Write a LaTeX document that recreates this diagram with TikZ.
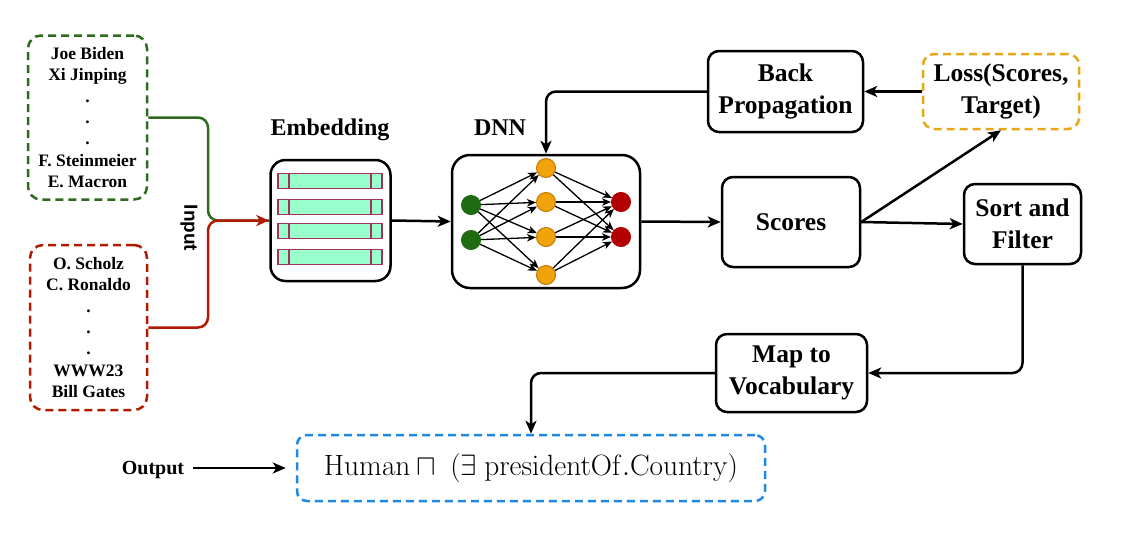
\documentclass[tikz,border=0pt]{standalone}
\usepackage{graphicx}
\usepackage[no-math]{fontspec}
\setmainfont{Liberation Serif}
\newfontfamily\lsans{Liberation Sans}
\usetikzlibrary{arrows.meta}
\definecolor{dgreen}{HTML}{2D6B1F}
\definecolor{dred}{HTML}{B21A00}
\definecolor{lossor}{HTML}{E6A817}
\definecolor{outblue}{HTML}{1E88E5}
\definecolor{mint}{HTML}{99FFCC}
\definecolor{barline}{HTML}{A3325A}
\definecolor{nngreen}{HTML}{1E6B12}
\definecolor{nnorange}{HTML}{F0A30A}
\definecolor{nnorangeb}{HTML}{C27A00}
\definecolor{nnred}{HTML}{B20000}
\begin{document}
\begin{tikzpicture}[x=1pt,y=-1pt,
  box/.style={draw, line width=2.5pt, rounded corners=11pt, align=center, inner sep=0pt,
    font=\bfseries\fontsize{25.5}{32.5}\selectfont},
  dbox/.style={draw, line width=2.5pt, dash pattern=on 8pt off 5pt, rounded corners=13pt,
    align=center, inner sep=0pt, font=\bfseries\fontsize{17.5}{21.3}\selectfont},
  lbl/.style={inner sep=0pt, font=\bfseries\fontsize{24}{28}\selectfont},
  conn/.style={line width=2.5pt, -{Stealth[length=13pt,width=11pt,inset=3.5pt]}},
  plain/.style={line width=2.5pt},
  bar/.style={draw=barline, fill=mint, line width=1.3pt},
  nn/.style={circle, minimum size=19pt, inner sep=0pt, line width=1pt},
  nnarrow/.style={line width=1.3pt, -{Stealth[length=9pt,width=7.5pt,inset=2.5pt]}}
]
\useasboundingbox (0,0) rectangle (1125,544);
\fill[white] (0,0) rectangle (1125,544);

% input boxes
\node[dbox, draw=dgreen, minimum width=119pt, minimum height=164pt] (gin) at (87.5,117.5)
  {Joe Biden\\Xi Jinping\\.\\.\\.\\F. Steinmeier\\E. Macron};
\node[dbox, draw=dred, minimum width=117pt, minimum height=165pt] (rin) at (88.5,327.5)
  {O. Scholz\\C. Ronaldo\\.\\.\\.\\WWW23\\Bill Gates};
\node[inner sep=0pt, rotate=-90, font=\lsans\bfseries\fontsize{19}{22}\selectfont] (inp) at (189,228) {Input};

% embedding
\node[draw, line width=2.5pt, rounded corners=15pt, minimum width=120pt, minimum height=121pt, inner sep=0pt] (emb) at (330.5,220.5) {};
\node[lbl] (emblbl) at (330,130) {Embedding};
\foreach \yy in {181,207,231,257}{
  \draw[bar] (278,\yy-7.5) rectangle (382,\yy+7.5);
  \draw[draw=barline, line width=1.3pt] (289,\yy-7.5) -- (289,\yy+7.5) (371,\yy-7.5) -- (371,\yy+7.5);
}

% connectors from inputs
\draw[plain, draw=dgreen, rounded corners=10pt] (gin.east) -- (208,117.5) -- (208,220.5) -- (emb.west);
\draw[conn, draw=dred, rounded corners=10pt] (rin.east) -- (208,327.5) -- (208,220.5) -- (emb.west);

% DNN
\node[draw, line width=2.5pt, rounded corners=18pt, minimum width=188pt, minimum height=133pt, inner sep=0pt] (dnn) at (546,221.5) {};
\node[lbl] (dnnlbl) at (500,128) {DNN};
\node[nn, fill=nngreen, draw=nngreen] (g1) at (471,205) {};
\node[nn, fill=nngreen, draw=nngreen] (g2) at (471,240) {};
\node[nn, fill=nnorange, draw=nnorangeb] (o1) at (546,168) {};
\node[nn, fill=nnorange, draw=nnorangeb] (o2) at (546,202) {};
\node[nn, fill=nnorange, draw=nnorangeb] (o3) at (546,237) {};
\node[nn, fill=nnorange, draw=nnorangeb] (o4) at (546,275) {};
\node[nn, fill=nnred, draw=nnred] (r1) at (621,202) {};
\node[nn, fill=nnred, draw=nnred] (r2) at (621,237) {};
\foreach \a in {g1,g2}{\foreach \b in {o1,o2,o3,o4}{\draw[nnarrow] (\a) -- (\b);}}
\foreach \a in {o1,o2,o3,o4}{\foreach \b in {r1,r2}{\draw[nnarrow] (\a) -- (\b);}}

% right part
\node[box, minimum width=138pt, minimum height=90pt] (scores) at (791,222) {Scores};
\node[box, minimum width=155pt, minimum height=81pt] (bp) at (785.5,91.5) {Back\\Propagation};
\node[box, draw=lossor, dash pattern=on 8pt off 5pt, minimum width=156pt, minimum height=75pt] (loss) at (1001,91.5) {Loss(Scores,\\Target)};
\node[box, minimum width=117pt, minimum height=80pt] (sort) at (1022.5,224) {Sort and\\Filter};
\node[box, minimum width=151pt, minimum height=78pt] (map) at (791.5,373) {Map to\\Vocabulary};

% output
\node[draw=outblue, line width=2.5pt, dash pattern=on 8pt off 5pt, rounded corners=10pt, minimum width=468pt, minimum height=66pt, inner sep=0pt, font=\fontsize{24.88}{30}\selectfont] (out) at (531,468)
  {\scalebox{1.18}{$\mathrm{Human}\sqcap\ (\exists\ \mathrm{presidentOf.Country})$}};
\node[inner sep=0pt, font=\bfseries\fontsize{20}{24}\selectfont] (outlbl) at (153,470) {Output};

\draw[conn] (emb.east) -- (dnn.west);
\draw[conn] (dnn.east) -- (scores.west);
\draw[conn] (scores.east) -- (sort.west);
\draw[conn] (scores.east) -- (loss.south);
\draw[conn] (loss.west) -- (bp.east);
\draw[conn, rounded corners=10pt] (bp.west) -| (dnn.north);
\draw[conn, rounded corners=10pt] (sort.south) |- (map.east);
\draw[conn, rounded corners=10pt] (map.west) -| (out.north);
\draw[conn, shorten <=9pt, shorten >=10pt] (outlbl.east |- out.west) -- (out.west);
\end{tikzpicture}
\end{document}
